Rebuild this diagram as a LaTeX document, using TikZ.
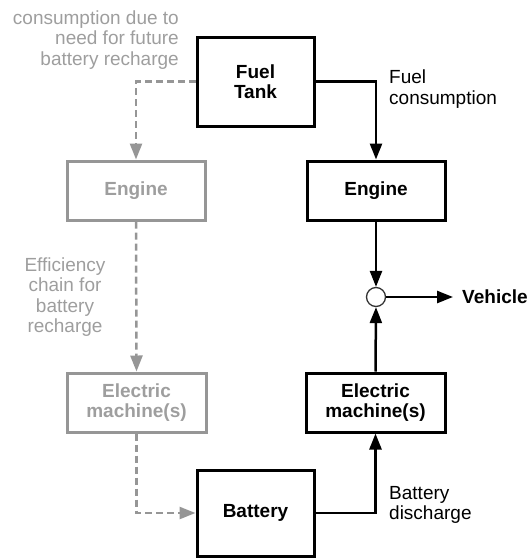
\documentclass[tikz,border=0pt]{standalone}
\usepackage{fontspec}
\setmainfont{Liberation Sans}
\usetikzlibrary{arrows.meta}
\definecolor{gline}{RGB}{150,150,150}
\definecolor{gtext}{RGB}{158,158,158}
\begin{document}
\begin{tikzpicture}[x=1pt,y=-1pt,
  every node/.style={font=\fontsize{19}{20.5}\selectfont},
  bbox/.style={draw=black,line width=3pt,font=\fontsize{19}{20.5}\selectfont\bfseries,align=center,inner sep=0pt},
  gbox/.style={draw=gline,text=gtext,line width=3pt,font=\fontsize{19}{20.5}\selectfont\bfseries,align=center,inner sep=0pt},
  conn/.style={draw=black,line width=2.5pt,-{Triangle[length=16pt,width=12pt]}},
  gconn/.style={draw=gline,line width=2.5pt,dash pattern=on 7pt off 4pt,-{Triangle[length=16pt,width=12pt]}},
  lbl/.style={inner sep=0pt}]
\useasboundingbox (0,0) rectangle (530,558);
% boxes
\node[bbox,minimum width=117pt,minimum height=89pt] (tank) at (255.5,81.5) {Fuel\\Tank};
\node[bbox,minimum width=138pt,minimum height=59pt] (eng) at (376,190.5) {Engine};
\node[bbox,minimum width=139pt,minimum height=59pt] (em) at (375.5,402.5) {Electric\\machine(s)};
\node[bbox,minimum width=117pt,minimum height=86pt] (bat) at (255.5,513) {Battery};
\node[gbox,minimum width=138pt,minimum height=59pt] (geng) at (136,190.5) {Engine};
\node[gbox,minimum width=139pt,minimum height=59pt] (gem) at (136.5,402.5) {Electric\\machine(s)};
\node[draw=black!80,line width=1.3pt,circle,minimum size=19pt,inner sep=0pt] (j) at (376,297) {};
\node[lbl,anchor=west,inner xsep=9pt,font=\fontsize{19}{20.5}\selectfont\bfseries] (veh) at (453,297) {Vehicle};
% labels
\node[lbl,anchor=west,align=left] (lfuel) at (389,89) {Fuel\\consumption};
\node[lbl,anchor=west,align=left] (lbat) at (389,505) {Battery\\discharge};
\node[lbl,text=gtext,align=center] (leff) at (65,297) {Efficiency\\chain for\\battery\\recharge};
\node[lbl,text=gtext,anchor=east,align=right] (lcons) at (179,40) {consumption due to\\need for future\\battery recharge};
% connectors
\draw[conn] (tank.east) -| (eng.north);
\draw[conn] (eng.south) -- (j.north);
\draw[conn] (em.north) -- (j.south);
\draw[conn] (j.east) -- (veh.west);
\draw[conn] (bat.east) -| (em.south);
\draw[gconn] (tank.west) -| (geng.north);
\draw[gconn] (geng.south) -- (gem.north);
\draw[gconn] (gem.south) |- (bat.west);
\end{tikzpicture}
\end{document}
